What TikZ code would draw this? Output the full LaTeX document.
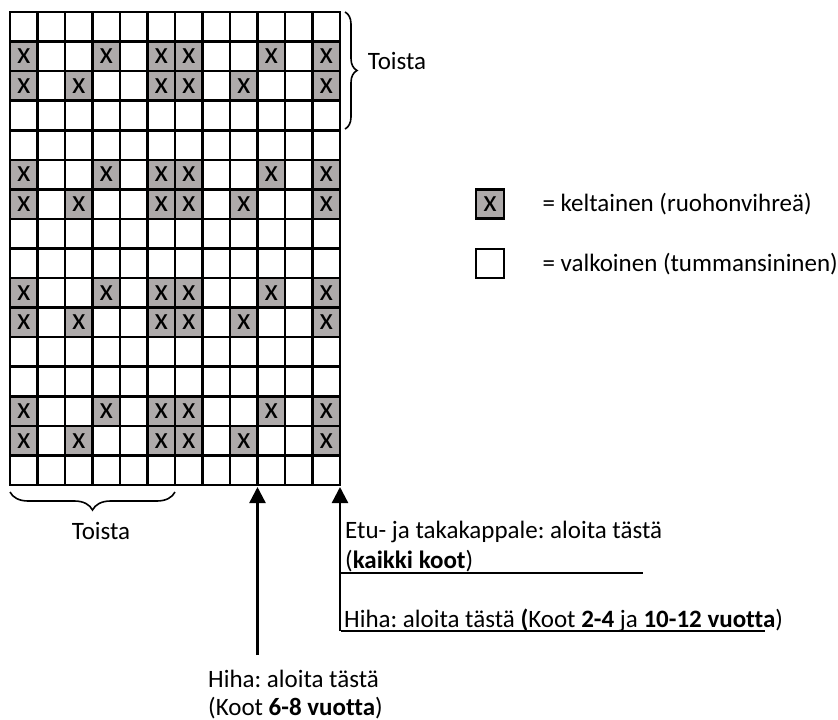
\documentclass[tikz,border=0pt]{standalone}
\usepackage{fontspec}
\setmainfont{Carlito}[Ligatures=NoCommon]
\usetikzlibrary{arrows.meta,positioning,decorations.pathreplacing}
\definecolor{stitchgray}{HTML}{AEAAAA}
\newcommand\cellw{27.5}
\newcommand\cellh{29.5625}
\newcommand\txtsize{\fontsize{25}{30}\selectfont}
\frenchspacing

\begin{document}
\begin{tikzpicture}[x=1pt, y=-1pt,
  stitch/.style={fill=stitchgray, minimum width=\cellw pt, minimum height=\cellh pt, inner sep=0pt, font=\fontsize{31}{31}\selectfont},
  gridline/.style={line width=2.6pt, line cap=rect},
  keybox/.style={draw, line width=2.6pt, minimum width=28pt, minimum height=29pt, inner sep=0pt, font=\fontsize{31}{31}\selectfont},
  lbl/.style={inner sep=0pt, font=\txtsize},
  brc/.style={decorate, line width=1.6pt},
  arr/.style={-{Triangle[length=16pt, width=16pt]}, line width=2.4pt},
  rule/.style={line width=1.1pt}
]
  \useasboundingbox (0,0) rectangle (838,720);

  \foreach \r in {1,5,9,13} {
    \foreach \c in {0,3,5,6,9,11}
      \node[stitch] (a\r-\c) at ({10+(\c+0.5)*\cellw},{12+(\r+0.5)*\cellh}) {x};
    \foreach \c in {0,2,5,6,8,11}
      \node[stitch] (b\r-\c) at ({10+(\c+0.5)*\cellw},{12+(\r+1.5)*\cellh}) {x};
  }
  \foreach \c in {0,...,12}
    \draw[gridline] ({10+\c*\cellw},12) -- ({10+\c*\cellw},485);
  \foreach \r in {0,...,16}
    \draw[gridline] (10,{12+\r*\cellh}) -- (340,{12+\r*\cellh});

  \draw[brc, decoration={brace, amplitude=12pt}] (345,12) -- (345,129);
  \node[lbl] (repright) at (397,61) {Toista};
  \draw[brc, decoration={brace, amplitude=18pt}] (175,492) -- (10,492);
  \node[lbl] (repbottom) at (101,531) {Toista};

  \node[keybox, fill=stitchgray] (keyx) at (490,204) {x};
  \node[keybox, below=28pt of keyx] (keyo) {};
  \node[lbl, right=37pt of keyx] (keyxtxt) {= keltainen (ruohonvihreä)};
  \node[lbl, right=37pt of keyo] (keyotxt) {= valkoinen (tummansininen)};

  \coordinate (frontstart) at (340,487);
  \coordinate (sleevestart) at ({10+9*\cellw},487);
  \coordinate (frontfoot) at (340,631);
  \coordinate (sleevefoot) at ({10+9*\cellw},655);
  \draw[arr] (frontfoot) -- (frontstart);
  \draw[arr] (sleevefoot) -- (sleevestart);

  \node[lbl, anchor=base west] (front1) at (345,538) {Etu- ja takakappale: aloita tästä};
  \node[lbl, anchor=base west] (front2) at (345,568) {(\textbf{kaikki koot})};
  \draw[rule] (341,573) -- (643,573);
  \node[lbl, anchor=base west] (sleeveA) at (344,627) {Hiha: aloita tästä \textbf{(}Koot \textbf{2-4} ja \textbf{10-12 vuotta})};
  \draw[rule] (341,631) -- (765,631);
  \node[lbl, anchor=base west] (sleeveB1) at (208,687) {Hiha: aloita tästä};
  \node[lbl, anchor=base west] (sleeveB2) at (208,715) {(Koot \textbf{6-8 vuotta})};
\end{tikzpicture}
\end{document}
